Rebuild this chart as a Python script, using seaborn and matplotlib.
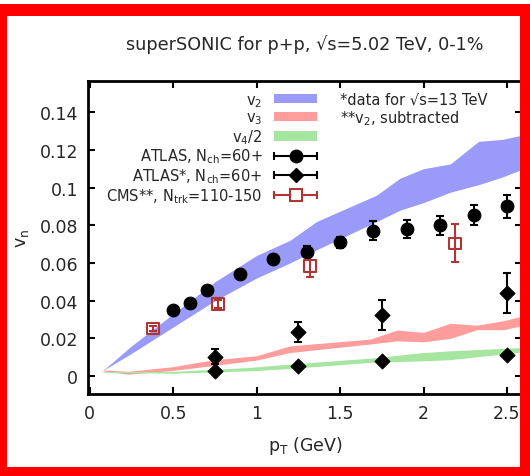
import matplotlib
matplotlib.use('Agg')
import numpy as np
import pandas as pd
import matplotlib.pyplot as plt
import seaborn as sns
from matplotlib.lines import Line2D
from matplotlib.patches import Patch, Rectangle
from matplotlib.legend_handler import HandlerLine2D

# superSONIC bands (lower / upper edge)
v2_pt = [0.08, 0.25, 0.5, 0.75, 1.0, 1.2, 1.36, 1.72, 1.86, 2.0, 2.16, 2.33, 2.47, 2.6]
v2_hi = [0.003, 0.016, 0.033, 0.050, 0.064, 0.072, 0.082, 0.096, 0.105, 0.110, 0.1125, 0.1245, 0.1255, 0.128]
v2_lo = [0.003, 0.012, 0.026, 0.040, 0.052, 0.060, 0.067, 0.082, 0.088, 0.092, 0.0975, 0.1015, 0.1055, 0.110]

v3_pt = [0.08, 0.23, 0.5, 0.73, 1.0, 1.2, 1.68, 1.84, 2.0, 2.16, 2.32, 2.48, 2.6]
v3_hi = [0.0033, 0.0025, 0.005, 0.0085, 0.0108, 0.016, 0.0196, 0.0244, 0.0232, 0.028, 0.027, 0.0294, 0.032]
v3_lo = [0.0028, 0.001, 0.003, 0.0055, 0.0085, 0.0125, 0.017, 0.0187, 0.0182, 0.020, 0.0246, 0.0246, 0.027]

v4_pt = [0.08, 0.5, 0.96, 1.2, 1.68, 2.0, 2.16, 2.6]
v4_hi = [0.0025, 0.0025, 0.0046, 0.0064, 0.0095, 0.0125, 0.0134, 0.0152]
v4_lo = [0.002, 0.0015, 0.0028, 0.004, 0.0073, 0.0081, 0.0087, 0.0129]

# ATLAS, Nch=60+ (v2)
atlas_pt = [0.5, 0.6, 0.7, 0.9, 1.1, 1.3, 1.5, 1.7, 1.9, 2.1, 2.3, 2.5]
atlas_v = [0.035, 0.039, 0.0455, 0.054, 0.062, 0.066, 0.071, 0.077, 0.078, 0.080, 0.0855, 0.090]
atlas_err = [0.0015, 0.0015, 0.002, 0.002, 0.002, 0.003, 0.003, 0.005, 0.005, 0.005, 0.0055, 0.006]

# ATLAS* (13 TeV), v3 and v4
atlas13_pt = [0.75, 1.25, 1.75, 2.5, 0.75, 1.25, 1.75, 2.5]
atlas13_v = [0.0103, 0.0232, 0.0324, 0.044, 0.0025, 0.0051, 0.008, 0.0113]
atlas13_err = [0.004, 0.0053, 0.008, 0.0105, 0.0005, 0.0005, 0.0005, 0.0005]

# CMS**, Ntrk=110-150
cms_pt = [0.38, 0.77, 1.32, 2.19]
cms_v = [0.0253, 0.0382, 0.0585, 0.0704]
cms_err = [0.0015, 0.002, 0.006, 0.010]

xticks = [0, 0.5, 1, 1.5, 2, 2.5]
xtick_labels = ['0', '0.5', '1', '1.5', '2', '2.5']
yticks = [0, 0.02, 0.04, 0.06, 0.08, 0.1, 0.12, 0.14]
ytick_labels = ['0', '0.02', '0.04', '0.06', '0.08', '0.1', '0.12', '0.14']

c_v2 = '#9a9af8'
c_v3 = '#ff9c9c'
c_v4 = '#a6e6a0'
c_cms = '#b03636'
txt = '#262626'

sns.set_style('ticks')
plt.rcParams['font.family'] = ['DejaVu Sans']
plt.rcParams['mathtext.fontset'] = 'dejavusans'

fig = plt.figure(figsize=(5.30, 4.77), dpi=100)
ax = fig.add_axes([88 / 530, 82 / 477, 434 / 530, 313 / 477])

ax.fill_between(v2_pt, v2_lo, v2_hi, color=c_v2, lw=0, zorder=1)
ax.fill_between(v3_pt, v3_lo, v3_hi, color=c_v3, lw=0, zorder=1)
ax.fill_between(v4_pt, v4_lo, v4_hi, color=c_v4, lw=0, zorder=1)

ax.errorbar(atlas_pt, atlas_v, yerr=atlas_err, fmt='none', ecolor='k', elinewidth=1.5, capsize=3, capthick=1.5, zorder=3)
ax.errorbar(atlas13_pt, atlas13_v, yerr=atlas13_err, fmt='none', ecolor='k', elinewidth=1.5, capsize=3, capthick=1.5, zorder=3)
ax.errorbar(cms_pt, cms_v, yerr=cms_err, fmt='none', ecolor=c_cms, elinewidth=1.5, capsize=3, capthick=1.5, zorder=3)

sns.scatterplot(x=atlas_pt, y=atlas_v, marker='o', s=85, color='k', edgecolor='k', ax=ax, zorder=4, legend=False)
sns.scatterplot(x=atlas13_pt, y=atlas13_v, marker='D', s=60, color='k', edgecolor='k', ax=ax, zorder=4, legend=False)
sns.scatterplot(x=cms_pt, y=cms_v, marker='s', s=70, facecolor='none', edgecolor=c_cms, linewidth=1.5, ax=ax, zorder=4, legend=False)

ax.set_xlim(-0.01, 2.59)
ax.set_ylim(-0.0095, 0.1565)
ax.set_xticks(xticks, xtick_labels)
ax.set_yticks(yticks, ytick_labels)
ax.tick_params(direction='in', length=5, width=1.5, labelsize=12.5, colors='k', labelcolor=txt, pad=7,
               top=True, right=True)
for s in ax.spines.values():
    s.set_color('k')
    s.set_linewidth(2)

ax.set_xlabel('p$_{\\rm T}$ (GeV)', fontsize=12.5, color=txt, labelpad=9)
ax.set_ylabel('v$_{\\rm n}$', fontsize=12.5, color=txt, labelpad=6)
ax.set_title('superSONIC for p+p, √s=5.02 TeV, 0-1%', fontsize=12.7, color=txt, pad=23)

# legend
cap_k = Line2D([], [], color='k', lw=1.5, marker='|', markersize=6, mew=1.5)
cap_k2 = Line2D([], [], color='k', lw=1.5, marker='|', markersize=6, mew=1.5)
cap_r = Line2D([], [], color=c_cms, lw=1.5, marker='|', markersize=6, mew=1.5)
handles = [
    Patch(facecolor=c_v2, edgecolor='none'),
    Patch(facecolor=c_v3, edgecolor='none'),
    Patch(facecolor=c_v4, edgecolor='none'),
    (cap_k, Line2D([], [], ls='none', marker='o', color='k', markersize=9)),
    (cap_k2, Line2D([], [], ls='none', marker='D', color='k', markersize=7)),
    (cap_r, Line2D([], [], ls='none', marker='s', mfc='white', mec=c_cms, mew=1.5, markersize=8)),
]
labels = ['v$_2$', 'v$_3$', 'v$_4$/2', 'ATLAS, N$_{\\rm ch}$=60+', 'ATLAS*, N$_{\\rm ch}$=60+',
          'CMS**, N$_{\\rm trk}$=110-150']
hm = {c: HandlerLine2D(numpoints=2, marker_pad=0) for c in (cap_k, cap_k2, cap_r)}
leg = ax.legend(handles, labels, handler_map=hm, loc='upper right', bbox_to_anchor=(0.528, 0.965),
                frameon=False, markerfirst=False, fontsize=10.5, handlelength=2.95, handleheight=0.6,
                handletextpad=0.8, labelspacing=0.06, borderpad=0, borderaxespad=0)
for t in leg.get_texts():
    t.set_color(txt)

ax.text(0.58, 0.9425, '*data for √s=13 TeV', transform=ax.transAxes, fontsize=10.5, color=txt, va='center')
ax.text(0.58, 0.882, '**v$_2$, subtracted', transform=ax.transAxes, fontsize=10.5, color=txt, va='center')

# red frame
W, H = 530, 477
for x0, y0, w, h in [(0, 0, 7, H - 5), (0, H - 17, W, 12), (520, 0, 10, H - 5), (0, 0, W, 9)]:
    fig.patches.append(Rectangle((x0 / W, y0 / H), w / W, h / H, transform=fig.transFigure,
                                 facecolor='#ff0000', edgecolor='none', zorder=10))

fig.savefig('out.png', dpi=100)
